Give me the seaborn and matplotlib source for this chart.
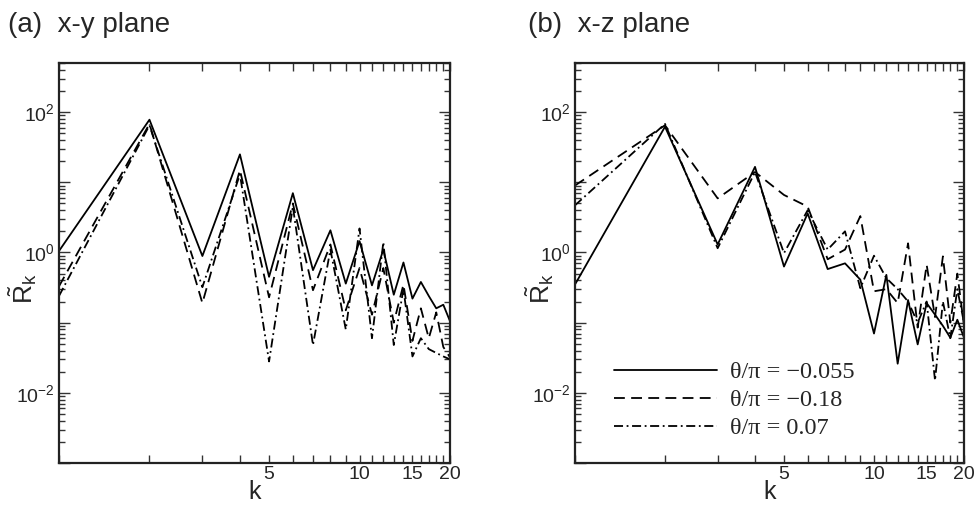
import matplotlib
matplotlib.use("Agg")
import matplotlib.pyplot as plt
import numpy as np
import pandas as pd
import seaborn as sns
from matplotlib.ticker import FixedLocator, FixedFormatter, LogLocator, NullFormatter

# Wavenumbers and curve labels
k = list(range(1, 21))
series_labels = ["θ/π = −0.055", "θ/π = −0.18", "θ/π = 0.07"]

# (a) x-y plane spectra
xy_solid = [1.05, 78, 0.89, 25, 0.45, 7.0, 0.56, 2.07, 0.36, 1.45,
            0.34, 1.1, 0.25, 0.72, 0.22, 0.38, 0.24, 0.16, 0.18, 0.105]
xy_dashed = [0.33, 68, 0.19, 15, 0.23, 5.0, 0.29, 1.3, 0.15, 0.6,
             0.13, 0.6, 0.1, 0.35, 0.055, 0.16, 0.06, 0.14, 0.045, 0.032]
xy_dashdot = [0.24, 65, 0.32, 13, 0.028, 4.5, 0.048, 1.1, 0.08, 2.2,
              0.06, 1.4, 0.048, 0.3, 0.033, 0.06, 0.042, 0.037, 0.033, 0.03]

# (b) x-z plane spectra
xz_solid = [0.35, 62, 1.3, 16.6, 0.63, 3.6, 0.58, 0.7, 0.41, 0.07,
            0.48, 0.026, 0.21, 0.049, 0.19, 0.13, 0.09, 0.061, 0.11, 0.061]
xz_dashed = [9.0, 65, 5.9, 14, 6.6, 4.5, 0.8, 1.1, 3.3, 0.28,
             0.3, 0.19, 1.35, 0.085, 0.67, 0.12, 0.88, 0.1, 0.5, 0.09]
xz_dashdot = [4.7, 68, 1.15, 14, 0.98, 4.0, 1.1, 2.0, 0.31, 0.9,
              0.43, 0.3, 0.2, 0.1, 0.2, 0.015, 0.2, 0.06, 0.3, 0.1]

x_tick_labels = {5: "5", 10: "10", 15: "15", 20: "20"}
y_tick_labels = {1e-2: r"$10^{-2}$", 1e0: r"$10^{0}$", 1e2: r"$10^{2}$"}

sns.set_style("ticks")
plt.rcParams["font.family"] = ["Liberation Sans", "DejaVu Sans"]
plt.rcParams["mathtext.fontset"] = "custom"
plt.rcParams["mathtext.rm"] = "Liberation Sans"
plt.rcParams["mathtext.it"] = "Liberation Sans:italic"


def long_frame(solid, dashed, dashdot):
    return pd.DataFrame({
        "k": k * 3,
        "R": solid + dashed + dashdot,
        "theta": [lab for lab in series_labels for _ in k],
    })


fig = plt.figure(figsize=(9.75, 5.07), dpi=100)
ax_a = fig.add_axes([59 / 975, 1 - 463 / 507, 391 / 975, 400 / 507])
ax_b = fig.add_axes([575 / 975, 1 - 463 / 507, 389 / 975, 400 / 507])

dash_styles = {series_labels[0]: "", series_labels[1]: (6, 3.5),
               series_labels[2]: (5, 2, 1, 2)}

panels = [
    (ax_a, long_frame(xy_solid, xy_dashed, xy_dashdot), "(a)  x-y plane", 8),
    (ax_b, long_frame(xz_solid, xz_dashed, xz_dashdot), "(b)  x-z plane", 528),
]

y_major = [1e-3, 1e-2, 1e-1, 1e0, 1e1, 1e2]

for ax, df, title, tx in panels:
    sns.lineplot(data=df, x="k", y="R", hue="theta", style="theta",
                 palette=["black"] * 3, dashes=dash_styles, linewidth=1.3,
                 estimator=None, sort=False, legend=False, ax=ax)
    ax.set_xscale("log")
    ax.set_yscale("log")
    ax.set_xlim(1, 20)
    ax.set_ylim(1e-3, 10 ** 2.7)

    ax.xaxis.set_major_locator(FixedLocator(k))
    ax.xaxis.set_major_formatter(FixedFormatter([x_tick_labels.get(v, "") for v in k]))
    ax.xaxis.set_minor_locator(FixedLocator([]))
    ax.xaxis.set_minor_formatter(NullFormatter())

    ax.yaxis.set_major_locator(FixedLocator(y_major))
    ax.yaxis.set_major_formatter(FixedFormatter([y_tick_labels.get(v, "") for v in y_major]))
    ax.yaxis.set_minor_locator(LogLocator(base=10, subs=np.arange(2, 10), numticks=20))
    ax.yaxis.set_minor_formatter(NullFormatter())

    ax.tick_params(which="both", direction="in", top=True, right=True,
                   width=1.0, color="#333333", labelsize=14)
    ax.tick_params(axis="y", which="major", length=8, pad=3)
    ax.tick_params(axis="y", which="minor", length=4)
    ax.tick_params(axis="x", which="major", length=6, pad=2)
    for sp in ax.spines.values():
        sp.set_linewidth(1.6)
        sp.set_color("#222222")

    ax.set_xlabel("k", fontsize=18)
    ax.xaxis.set_label_coords(0.5, -0.042)
    ax.set_ylabel(r"$\tilde{\mathrm{R}}_{\mathrm{k}}$", fontsize=19)
    ax.yaxis.set_label_coords(-0.05, 0.435)

    fig.text(tx / 975, 1 - 25 / 507, title, fontsize=20, va="center", ha="left")

leg = ax_b.legend(ax_b.lines[:3], series_labels, loc="upper left",
                  bbox_to_anchor=(0.1, 0.255), frameon=False, borderpad=0,
                  borderaxespad=0, handlelength=4.25, handletextpad=0.53,
                  labelspacing=0.25,
                  prop={"family": "Liberation Serif", "size": 17.5})

fig.savefig("out.png", dpi=100)
